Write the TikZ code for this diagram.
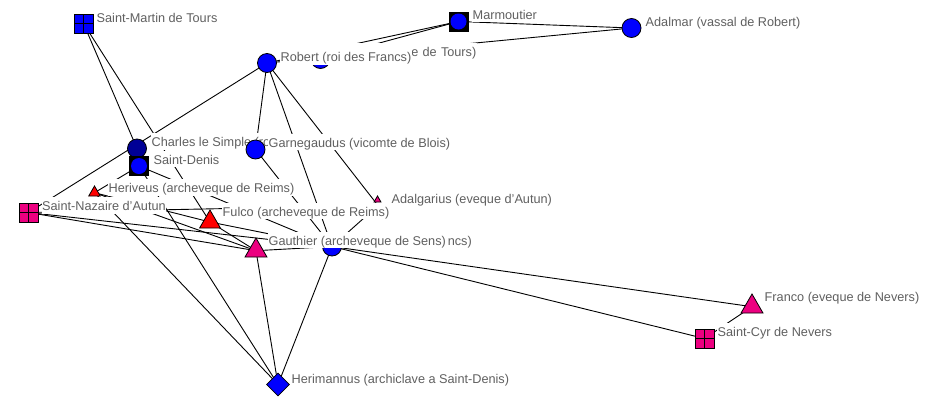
\documentclass[tikz,border=0pt]{standalone}
\usepackage{fontspec}
\setmainfont{Liberation Sans}
\usetikzlibrary{shapes.geometric}
\pgfdeclarelayer{back}
\pgfdeclarelayer{edges}
\pgfsetlayers{back,edges,main}
\definecolor{vblue}{RGB}{0,0,255}
\definecolor{vnavy}{RGB}{0,0,150}
\definecolor{vmag}{RGB}{236,0,128}
\definecolor{vred}{RGB}{255,0,0}
\definecolor{lblgray}{RGB}{96,96,96}
\tikzset{
  vtx/.style={draw=black, line width=0.8pt, inner sep=0pt},
  circ/.style={vtx, circle, minimum size=19pt, fill=vblue},
  tri/.style={vtx, regular polygon, regular polygon sides=3},
  gridsq/.style={vtx, rectangle, minimum size=19pt, path picture={\draw[line width=1.1pt] (path picture bounding box.north) -- (path picture bounding box.south) (path picture bounding box.west) -- (path picture bounding box.east);}},
  insq/.style={vtx, rectangle, minimum size=19pt, fill=black, path picture={\fill[vblue] (path picture bounding box.center) circle (8pt);}},
  lbl/.style={anchor=base west, fill=white, inner xsep=0.5pt, inner ysep=0pt, text height=13.5pt, text depth=3pt, text=lblgray, font=\fontsize{12.7}{14}\selectfont},
  hidlbl/.style={lbl, anchor=base east, align=right},
  edge/.style={line width=0.9pt, draw=black},
}
\begin{document}
\begin{tikzpicture}[x=1pt,y=-1pt]
\begin{pgfonlayer}{back}
\fill[white] (0,0) rectangle (928,397);
\end{pgfonlayer}
\useasboundingbox (0,0) rectangle (928,397);

% vertices and labels, in drawing order
\node[gridsq, fill=vblue] (smt) at (83.5,23.5) {};
\node[lbl] (smtL) at (96,22) {Saint-Martin de Tours};
\node[insq] (marm) at (458.5,21.5) {};
\node[lbl] (marmL) at (472,19) {Marmoutier};
\node[circ] (adal) at (631.5,28) {};
\node[lbl] (adalL) at (645,26.5) {Adalmar (vassal de Robert)};
\node[circ] (hidA) at (320.5,59) {};
\node[hidlbl, text width=143pt] (hidAL) at (477,56.5) {e de Tours)};
\node[circ] (robert) at (267,63) {};
\node[lbl] (robertL) at (280,61.5) {Robert (roi des Francs)};
\node[circ, fill=vnavy] (charles) at (137,148.5) {};
\node[lbl] (charlesL) at (151,146.5) {Charles le Simple (roi};
\node[insq] (sdenis) at (139,166) {};
\node[lbl] (sdenisL) at (153,164) {Saint-Denis};
\node[circ] (garn) at (255.5,149.5) {};
\node[lbl] (garnL) at (268,147) {Garnegaudus (vicomte de Blois)};
\node[tri, fill=vred, minimum size=13.4pt] (heriv) at (94.5,192.7) {};
\node[lbl] (herivL) at (108,192.5) {Heriveus (archeveque de Reims)};
\node[gridsq, fill=vmag] (snaz) at (28.5,212.5) {};
\node[lbl] (snazL) at (41.5,210.5) {Saint-Nazaire d'Autun};
\coordinate (adalgv) at (378,205.5);
\node[tri, fill=vred, minimum size=24pt] (fulco) at (210,222) {};
\node[lbl] (fulcoL) at (222,216) {Fulco (archeveque de Reims)};
\node[tri, fill=vmag, minimum size=8pt] (adalg) at (377.5,200) {};
\node[lbl] (adalgL) at (391,203) {Adalgarius (eveque d'Autun)};
\node[circ] (hidB) at (332,246.5) {};
\node[hidlbl, text width=127pt] (hidBL) at (472.5,245) {ncs)};
\node[tri, fill=vmag, minimum size=25.4pt] (gauth) at (256,250.7) {};
\node[lbl] (gauthL) at (268,245) {Gauthier (archeveque de Sens)};
\node[tri, fill=vmag, minimum size=25.4pt] (franco) at (752,306.7) {};
\node[lbl] (francoL) at (764,301.5) {Franco (eveque de Nevers)};
\node[gridsq, fill=vmag] (scyr) at (704.5,338.5) {};
\node[lbl] (scyrL) at (717,336.5) {Saint-Cyr de Nevers};
\node[vtx, diamond, aspect=1, minimum size=23pt, fill=vblue] (herim) at (278,384.5) {};
\node[lbl] (herimL) at (291,383) {Herimannus (archiclave a Saint-Denis)};

% connectors
\begin{pgfonlayer}{edges}
\foreach \a/\b in {smt/charles, smt/fulco, robert/snaz, robert/garn, robert/hidB, robert/adalgv,
  marm/robert, marm/hidA, marm/adal, adal/robert, garn/hidB, sdenis/hidB, sdenis/heriv,
  sdenis/herim, heriv/herim, heriv/fulco, heriv/gauth, snaz/adalgv, snaz/gauth, snaz/hidB,
  fulco/gauth, fulco/hidB, gauth/hidB, gauth/herim, hidB/herim, hidB/adalgv, hidB/franco,
  hidB/scyr, franco/scyr}
  \draw[edge] (\a.center) -- (\b.center);
\end{pgfonlayer}
\end{tikzpicture}
\end{document}
